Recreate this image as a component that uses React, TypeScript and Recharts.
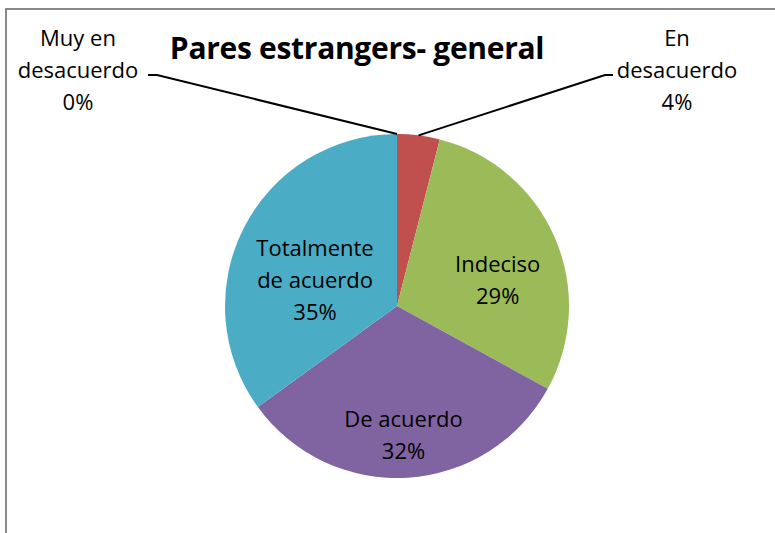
import { PieChart, Pie, Cell } from "recharts";

const categories = [
  "Muy en desacuerdo",
  "En desacuerdo",
  "Indeciso",
  "De acuerdo",
  "Totalmente de acuerdo",
];
const percents = [0, 4, 29, 32, 35];
const colors = ["#4F81BD", "#C0504D", "#9BBB59", "#8064A2", "#4BACC6"];

// how each category label is split over lines
const labelLines = [
  ["Muy en", "desacuerdo"],
  ["En", "desacuerdo"],
  ["Indeciso"],
  ["De acuerdo"],
  ["Totalmente", "de acuerdo"],
];

const data = categories.map((name, i) => ({ name, value: percents[i] }));

const FONT = "'Open Sans', 'DejaVu Sans', sans-serif";
const LINE_H = 32;
const RADIAN = Math.PI / 180;

// outside labels: text centre and leader line elbow
const outside: Record<number, { x: number; y: number; elbow: number; end: number }> = {
  0: { x: 78, y: 69, elbow: 157, end: 148 },
  1: { x: 677, y: 69, elbow: 605, end: 613 },
};
// inside labels: nudge from the 0.6r point on the mid angle
const nudge: Record<number, [number, number]> = {
  2: [6, 14],
  3: [0, 25],
  4: [10, 20],
};

function renderLabel(props: any) {
  const { cx, cy, midAngle, outerRadius, index, value } = props;
  const lines = [...labelLines[index], `${value}%`];
  const cos = Math.cos(-midAngle * RADIAN);
  const sin = Math.sin(-midAngle * RADIAN);
  let tx: number;
  let ty: number;
  let leader = null;
  if (outside[index]) {
    const o = outside[index];
    tx = o.x;
    ty = o.y;
    const sx = cx + outerRadius * cos;
    const sy = cy + outerRadius * sin;
    const ly = 75;
    leader = (
      <polyline
        points={`${sx},${sy} ${o.elbow},${ly} ${o.end},${ly}`}
        fill="none"
        stroke="#000"
        strokeWidth={2}
      />
    );
  } else {
    const [dx, dy] = nudge[index] || [0, 0];
    tx = cx + outerRadius * 0.6 * cos + dx;
    ty = cy + outerRadius * 0.6 * sin + dy;
  }
  const first = ty - ((lines.length - 1) * LINE_H) / 2;
  return (
    <g key={`lbl-${index}`}>
      {leader}
      <text
        x={tx}
        y={first}
        textAnchor="middle"
        dominantBaseline="central"
        fill="#000"
        fontSize={22}
        fontFamily={FONT}
      >
        {lines.map((l, i) => (
          <tspan key={i} x={tx} y={first + i * LINE_H}>
            {l}
          </tspan>
        ))}
      </text>
    </g>
  );
}

export default function App() {
  return (
    <div
      style={{
        position: "fixed",
        left: 0,
        top: 0,
        width: 775,
        height: 533,
        background: "#fff",
        overflow: "hidden",
      }}
    >
      <div
        style={{
          position: "absolute",
          left: 5,
          top: 8,
          width: 800,
          height: 560,
          border: "2px solid #898989",
        }}
      />
      <div
        style={{
          position: "absolute",
          left: 0,
          width: 714,
          top: 27,
          textAlign: "center",
          fontFamily: FONT,
          fontWeight: 700,
          fontSize: 30,
          letterSpacing: -0.3,
          color: "#000",
        }}
      >
        Pares estrangers- general
      </div>
      <div style={{ position: "absolute", left: 0, top: 0 }}>
        <PieChart width={775} height={533}>
          <Pie
            data={data}
            dataKey="value"
            nameKey="name"
            cx={392}
            cy={301}
            outerRadius={172}
            startAngle={90}
            endAngle={-270}
            stroke="none"
            label={renderLabel}
            labelLine={false}
            isAnimationActive={false}
          >
            {data.map((d, i) => (
              <Cell key={d.name} fill={colors[i]} />
            ))}
          </Pie>
        </PieChart>
      </div>
    </div>
  );
}
